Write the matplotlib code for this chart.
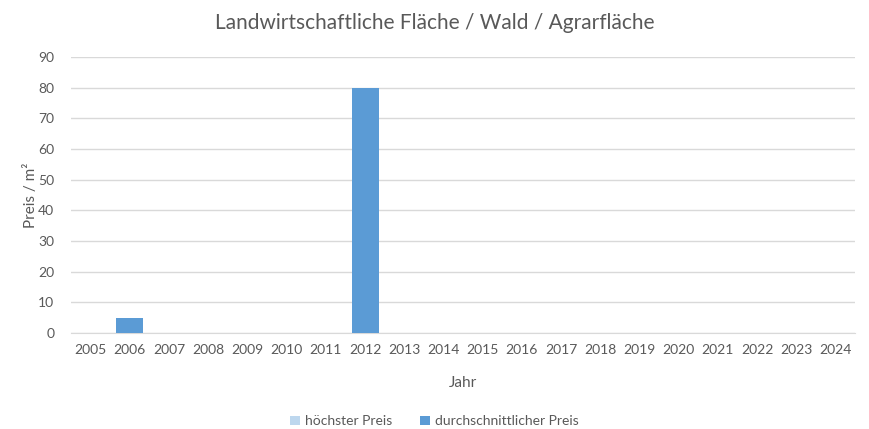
import numpy as np
import matplotlib
matplotlib.use("Agg")
import matplotlib.pyplot as plt

years = [str(y) for y in range(2005, 2025)]
hoechster = [0, 0, 0, 0, 0, 0, 0, 0, 0, 0, 0, 0, 0, 0, 0, 0, 0, 0, 0, 0]
durchschnitt = [0, 5, 0, 0, 0, 0, 0, 80, 0, 0, 0, 0, 0, 0, 0, 0, 0, 0, 0, 0]

plt.rcParams['font.family'] = ['Lato', 'DejaVu Sans']
txt = '#595959'

fig = plt.figure(figsize=(8.69, 4.29), dpi=100)
ax = fig.add_axes([0.0817, 0.2238, 0.9023, 0.6432])

x = np.arange(len(years))
ax.bar(x, hoechster, width=0.69, color='#BDD7EE', label='höchster Preis', zorder=2)
ax.bar(x, durchschnitt, width=0.69, color='#5B9BD5', label='durchschnittlicher Preis', zorder=3)

ax.set_xlim(-0.5, len(years) - 0.5)
ax.set_ylim(0, 90)
ax.set_yticks(range(0, 91, 10))
ax.set_xticks(x)
ax.set_xticklabels(years)
ax.yaxis.grid(True, color='#D9D9D9', linewidth=1)
ax.set_axisbelow(True)
for s in ['top', 'right', 'left']:
    ax.spines[s].set_visible(False)
ax.spines['bottom'].set_color('#D9D9D9')
ax.tick_params(length=0, colors=txt, labelsize=10)
ax.tick_params(axis='y', pad=12)
ax.tick_params(axis='x', pad=8)

ax.set_xlabel('Jahr', color=txt, fontsize=11, labelpad=14)
ax.set_ylabel('Preis / m²', color=txt, fontsize=11, labelpad=0)
fig.suptitle('Landwirtschaftliche Fläche / Wald / Agrarfläche', color=txt, fontsize=15, y=0.97)

fig.legend(loc='lower center', bbox_to_anchor=(0.5, -0.025), ncol=2, frameon=False,
           fontsize=10, labelcolor=txt, handlelength=0.7, handleheight=0.7,
           handletextpad=0.4, columnspacing=2.0)

fig.savefig('out.png', dpi=100)
